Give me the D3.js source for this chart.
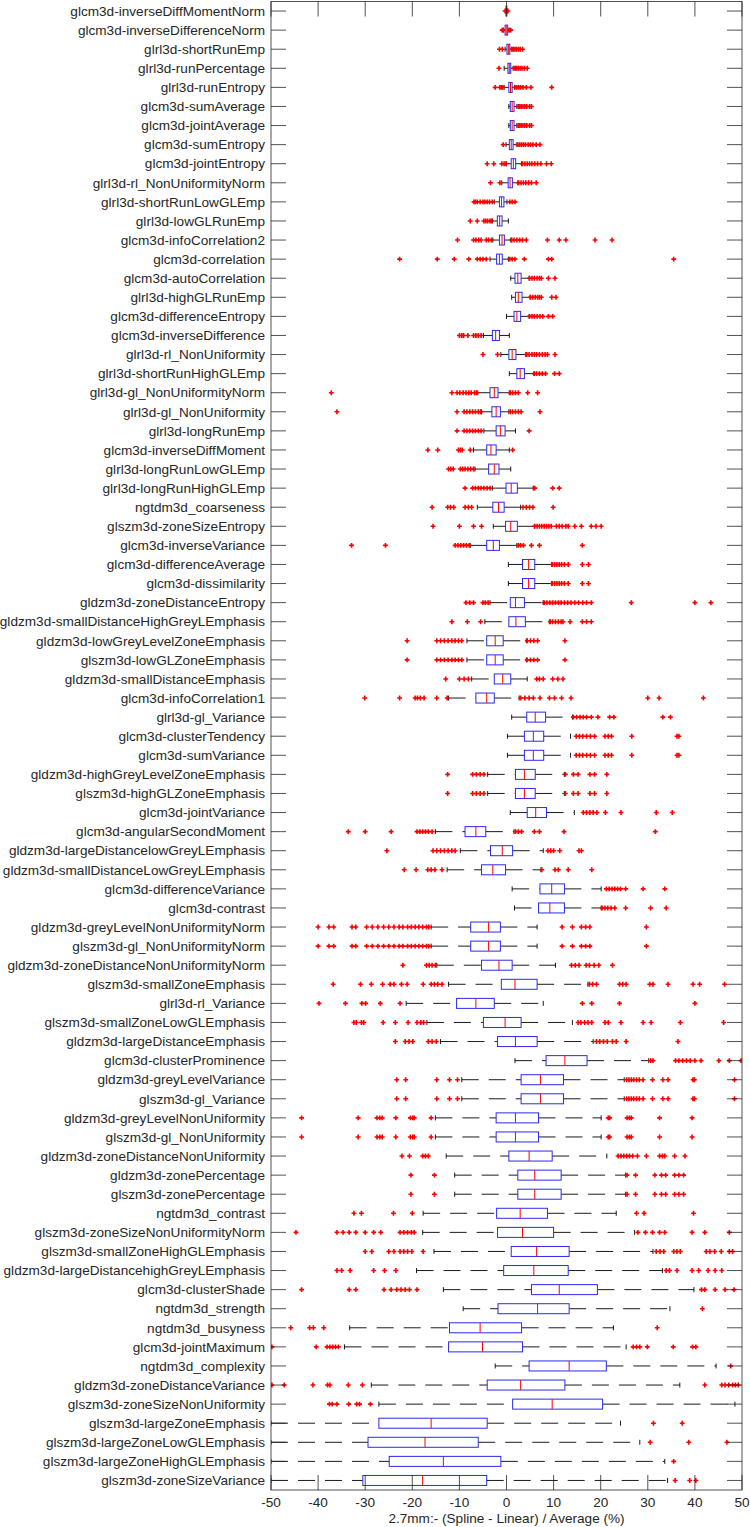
<!DOCTYPE html>
<html>
<head>
<meta charset="utf-8">
<script src="https://cdn.jsdelivr.net/npm/d3@7"></script>
<style>
  body { margin: 0; background: #fff; }
  text { font-family: "Liberation Sans", Arial, Helvetica, sans-serif; fill: #262626; }
</style>
</head>
<body>
<script>
// features, top to bottom
var features = [
  "glcm3d-inverseDiffMomentNorm", "glcm3d-inverseDifferenceNorm", "glrl3d-shortRunEmp", "glrl3d-runPercentage",
  "glrl3d-runEntropy", "glcm3d-sumAverage", "glcm3d-jointAverage", "glcm3d-sumEntropy", "glcm3d-jointEntropy",
  "glrl3d-rl_NonUniformityNorm", "glrl3d-shortRunLowGLEmp", "glrl3d-lowGLRunEmp", "glcm3d-infoCorrelation2",
  "glcm3d-correlation", "glcm3d-autoCorrelation", "glrl3d-highGLRunEmp", "glcm3d-differenceEntropy",
  "glcm3d-inverseDifference", "glrl3d-rl_NonUniformity", "glrl3d-shortRunHighGLEmp", "glrl3d-gl_NonUniformityNorm",
  "glrl3d-gl_NonUniformity", "glrl3d-longRunEmp", "glcm3d-inverseDiffMoment", "glrl3d-longRunLowGLEmp",
  "glrl3d-longRunHighGLEmp", "ngtdm3d_coarseness", "glszm3d-zoneSizeEntropy", "glcm3d-inverseVariance",
  "glcm3d-differenceAverage", "glcm3d-dissimilarity", "gldzm3d-zoneDistanceEntropy",
  "gldzm3d-smallDistanceHighGreyLEmphasis", "gldzm3d-lowGreyLevelZoneEmphasis", "glszm3d-lowGLZoneEmphasis",
  "gldzm3d-smallDistanceEmphasis", "glcm3d-infoCorrelation1", "glrl3d-gl_Variance", "glcm3d-clusterTendency",
  "glcm3d-sumVariance", "gldzm3d-highGreyLevelZoneEmphasis", "glszm3d-highGLZoneEmphasis", "glcm3d-jointVariance",
  "glcm3d-angularSecondMoment", "gldzm3d-largeDistancelowGreyLEmphasis", "gldzm3d-smallDistanceLowGreyLEmphasis",
  "glcm3d-differenceVariance", "glcm3d-contrast", "gldzm3d-greyLevelNonUniformityNorm",
  "glszm3d-gl_NonUniformityNorm", "gldzm3d-zoneDistanceNonUniformityNorm", "glszm3d-smallZoneEmphasis",
  "glrl3d-rl_Variance", "glszm3d-smallZoneLowGLEmphasis", "gldzm3d-largeDistanceEmphasis",
  "glcm3d-clusterProminence", "gldzm3d-greyLevelVariance", "glszm3d-gl_Variance", "gldzm3d-greyLevelNonUniformity",
  "glszm3d-gl_NonUniformity", "gldzm3d-zoneDistanceNonUniformity", "gldzm3d-zonePercentage",
  "glszm3d-zonePercentage", "ngtdm3d_contrast", "glszm3d-zoneSizeNonUniformityNorm",
  "glszm3d-smallZoneHighGLEmphasis", "gldzm3d-largeDistancehighGreyLEmphasis", "glcm3d-clusterShade",
  "ngtdm3d_strength", "ngtdm3d_busyness", "glcm3d-jointMaximum", "ngtdm3d_complexity",
  "gldzm3d-zoneDistanceVariance", "glszm3d-zoneSizeNonUniformity", "glszm3d-largeZoneEmphasis",
  "glszm3d-largeZoneLowGLEmphasis", "glszm3d-largeZoneHighGLEmphasis", "glszm3d-zoneSizeVariance"
];

var q1 = [-0.1, -0.3, 0.1, 0.3, 0.5, 0.8, 0.8, 0.6, 1.0, 0.35, -1.5, -1.95, -1.5, -2.1, 1.8, 1.9, 1.6, -3.0, 0.5, 2.2,
  -3.5, -3.1, -2.2, -4.2, -3.8, -0.1, -2.9, -0.2, -4.2, 3.4, 3.4, 0.8, 0.5, -4.2, -4.2, -2.6, -6.5, 4.3, 3.8, 3.8,
  1.9, 1.9, 4.4, -8.8, -3.4, -5.3, 7.1, 6.8, -7.6, -7.6, -5.3, -1.1, -10.6, -4.9, -1.9, 8.4, 3.1, 3.1, -2.2, -2.2,
  0.5, 2.4, 2.4, -2.1, -1.9, 1.0, -0.6, 5.3, -1.8, -12.1, -12.3, 4.8, -4.1, 1.3, -27.1, -29.4, -24.9, -30.5];
var med = [0, -0.05, 0.4, 0.6, 0.85, 1.2, 1.2, 1.0, 1.45, 0.75, -1.05, -1.45, -0.95, -1.5, 2.4, 2.5, 2.2, -2.3, 1.2, 2.9,
  -2.6, -2.2, -1.3, -3.3, -2.6, 1.0, -1.7, 0.9, -2.8, 4.7, 4.7, 1.9, 2.0, -2.4, -2.4, -0.8, -4.2, 6.1, 5.7, 5.7,
  3.8, 3.8, 6.2, -6.5, -0.9, -2.9, 9.6, 9.2, -3.8, -3.8, -1.6, 1.8, -6.5, -0.3, 1.9, 12.4, 7.2, 7.2, 1.9, 1.9,
  4.8, 6.0, 6.0, 2.9, 3.4, 6.4, 5.8, 11.2, 6.6, -5.6, -5.1, 13.3, 3.0, 9.7, -16.0, -17.3, -13.4, -17.8];
var q3 = [0.08, 0.25, 0.7, 0.9, 1.2, 1.6, 1.6, 1.4, 1.95, 1.25, -0.55, -0.95, -0.45, -0.9, 3.1, 3.3, 3.0, -1.5, 2.0, 3.8,
  -1.8, -1.3, -0.3, -2.2, -1.6, 2.3, -0.5, 2.3, -1.5, 6.0, 6.0, 3.8, 4.0, -0.7, -0.7, 0.9, -2.6, 8.3, 7.9, 7.9,
  6.1, 6.1, 8.5, -4.4, 1.3, -0.2, 12.3, 12.3, -1.3, -1.3, 1.2, 6.5, -2.6, 3.1, 6.5, 17.1, 12.1, 12.1, 6.8, 6.8,
  9.7, 11.6, 11.6, 8.7, 10.0, 13.3, 13.1, 19.3, 13.3, 3.2, 3.4, 21.2, 12.4, 20.4, -4.1, -6.0, -1.2, -4.2];
var whiskerLo = [-0.2, -0.6, -0.3, -0.5, -0.5, 0.5, 0.5, -0.1, 0.0, -1.0, -2.6, -3.0, -2.9, -3.5, 0.9, 1.1, 0.0, -4.9,
  -1.2, 0.6, -6.1, -5.3, -4.8, -7.0, -6.7, -3.0, -6.2, -2.8, -7.7, 0.4, 0.4, -3.5, -4.6, -8.4, -8.4, -7.4, -12.3,
  1.1, 0.2, 0.2, -4.0, -4.0, 0.8, -15.1, -9.8, -12.6, 1.2, 1.7, -16.0, -16.0, -14.8, -12.3, -21.3, -16.9, -14.0,
  1.8, -9.5, -9.5, -15.1, -15.1, -12.8, -11.0, -11.0, -17.7, -17.8, -15.4, -19.1, -13.4, -9.2, -33.3, -34.4, -2.4,
  -28.7, -27.1, -50, -50, -50, -50];
var whiskerHi = [0.2, 0.5, 1.0, 1.4, 1.7, 2.2, 2.2, 2.2, 3.2, 2.4, 0.1, 0.4, 0.9, 0.4, 4.8, 5.0, 4.8, 0.6, 4.1, 5.8,
  0.6, 0.5, 1.9, 0.6, 0.9, 5.7, 3.0, 5.9, 2.2, 9.6, 9.6, 7.8, 9.1, 4.2, 4.2, 4.4, 2.7, 14.0, 13.6, 13.6,
  12.3, 12.3, 14.4, 1.6, 7.8, 7.3, 20.1, 20.1, 6.5, 6.5, 10.4, 17.3, 7.8, 14.0, 18.4, 30.2, 25.0, 25.0, 20.1, 20.1,
  21.3, 25.3, 25.3, 23.3, 27.2, 31.1, 33.1, 39.8, 34.7, 22.7, 25.4, 44.5, 36.8, 48.5, 24.2, 28.3, 33.6, 34.2];

var outliers = [
  [-0.3, 0.3],
  [-0.9, -0.8, 0.7, 0.9],
  [-1.5, -0.9, 1.2, 1.5, 1.8, 2.1, 2.5, 2.9, 3.4],
  [-1.6, 1.6, 1.9, 2.2, 2.5, 2.9, 3.3, 3.8, 4.4],
  [-2.4, -1.4, -1.1, -0.8, 1.8, 2.2, 2.6, 3.0, 3.5, 4.2, 5.2, 9.6],
  [2.5, 2.8, 3.1, 3.5, 3.9, 4.3, 4.9, 5.3],
  [2.5, 2.8, 3.1, 3.5, 3.9, 4.3, 4.9, 5.3],
  [-0.7, 2.4, 2.8, 3.2, 3.6, 4.0, 4.6, 5.1, 5.6, 6.3, 7.1],
  [-4.1, -2.7, -1.0, -0.5, -0.1, 3.4, 3.9, 4.4, 4.9, 5.4, 6.0, 6.6, 7.3, 8.5, 9.5],
  [-3.4, -1.4, 2.6, 3.1, 3.6, 4.1, 4.7, 5.3, 6.3],
  [-6.9, -6.6, -6.2, -5.6, -5.0, -4.6, -4.1, -3.6, -3.0, 0.7, 1.2, 1.8],
  [-7.7, -6.2, -4.8, -4.4, -4.0, -3.5, -3.2],
  [-10.4, -7.0, -6.5, -5.9, -5.4, -4.3, -3.8, -3.2, 1.1, 1.6, 2.2, 2.8, 3.4, 4.2, 8.7, 11.2, 12.6, 18.8, 22.4],
  [-22.7, -14.7, -11.1, -8.0, -6.2, -5.6, -5.0, -4.3, 0.7, 1.2, 1.8, 3.8, 8.9, 9.6, 35.5],
  [4.9, 5.4, 5.9, 6.5, 7.0, 7.4, 8.9, 10.3],
  [5.1, 5.6, 6.1, 6.6, 7.0, 7.4, 9.6, 10.5],
  [4.9, 5.4, 5.9, 6.5, 7.1, 7.7, 8.9, 9.8],
  [-10.0, -9.5, -9.1, -8.2, -7.0, -6.5, -6.0, -5.4],
  [-5.0, -1.9, 4.3, 4.8, 5.4, 5.9, 6.4, 7.0, 7.6, 8.2, 8.7, 10.3],
  [5.9, 6.4, 7.0, 7.6, 8.3, 10.2, 11.2],
  [-37.2, -11.6, -10.5, -9.9, -9.2, -8.6, -8.0, -7.5, -6.8, -6.4, 0.8, 1.3, 1.9, 2.5, 4.5, 6.6],
  [-36.0, -10.5, -9.0, -8.4, -7.8, -7.2, -6.6, -6.0, -5.5, 0.8, 1.3, 1.9, 2.5, 3.1, 7.1],
  [-10.5, -9.0, -8.4, -7.8, -7.2, -6.6, -6.0, -5.4, 4.8],
  [-16.7, -14.6, -10.2, -9.8, -9.4, -7.7, 1.3],
  [-12.3, -11.8, -11.3, -9.8, -9.3, -8.8, -8.2, -7.6, -7.0],
  [-8.8, -7.2, -6.6, -6.0, -5.4, -4.8, -4.1, -3.5, 6.0, 9.8, 11.2],
  [-15.8, -12.5, -11.9, -11.2, -8.8, -8.1, -7.4, 3.5, 4.2, 4.9, 5.6, 9.9],
  [-15.6, -10.0, -7.0, -5.3, 6.0, 6.5, 7.0, 7.5, 8.0, 8.5, 9.0, 9.5, 10.6, 11.2, 11.8, 12.6, 13.1, 14.5, 15.9, 18.0, 19.0, 20.1],
  [-32.9, -25.7, -10.9, -10.3, -9.7, -9.1, -8.5, -7.9, 2.5, 3.0, 3.6, 5.3, 7.0, 16.1],
  [9.7, 10.2, 10.7, 11.2, 11.7, 12.3, 13.1, 16.1, 17.4],
  [9.7, 10.2, 10.7, 11.2, 11.7, 12.3, 13.1, 16.1, 17.4],
  [-8.6, -7.8, -7.0, -5.0, -4.5, -3.9, 8.0, 8.6, 9.2, 9.8, 10.4, 11.0, 11.6, 12.3, 13.0, 13.7, 14.5, 15.3, 16.2, 17.0, 18.0, 26.5, 40.0, 43.4],
  [-11.6, -8.3, -5.5, 9.3, 9.8, 10.4, 11.0, 11.6, 12.0, 13.5, 16.1, 17.0, 18.0],
  [-21.1, -14.8, -14.0, -13.2, -12.4, -11.6, -10.9, -10.2, -9.5, 4.4, 5.1, 5.8, 6.6, 12.4],
  [-21.1, -14.8, -14.0, -13.2, -12.4, -11.6, -10.9, -10.2, -9.5, 4.4, 5.1, 5.8, 6.6, 12.4],
  [-12.9, -10.0, -9.0, -8.1, 6.4, 7.0, 7.8, 9.8, 10.9, 12.0],
  [-30.1, -22.7, -19.4, -18.9, -18.3, -17.5, -14.8, -12.6, 3.0, 3.9, 4.8, 5.7, 7.1, 9.1, 10.2, 11.7, 13.7, 30.0, 32.4, 41.8],
  [14.2, 14.9, 15.6, 16.3, 17.0, 18.0, 19.4, 21.9, 22.8, 33.2, 34.8],
  [14.8, 15.5, 16.2, 17.0, 17.8, 18.7, 20.9, 21.6, 22.3, 26.6, 36.2, 36.6],
  [14.8, 15.5, 16.2, 17.0, 17.8, 18.7, 20.9, 21.6, 22.3, 26.6, 36.2, 36.6],
  [-12.5, -7.2, -6.4, -5.6, -4.8, 12.5, 14.2, 15.2, 17.7, 18.7, 21.3],
  [-12.5, -7.2, -6.4, -5.6, -4.8, 12.5, 14.2, 15.2, 17.7, 18.7, 21.3],
  [16.3, 17.0, 17.7, 18.4, 19.2, 21.0, 24.3, 31.8, 35.2],
  [-33.6, -30.0, -24.5, -19.0, -18.4, -17.8, -17.2, -16.6, -15.8, 1.9, 2.5, 3.2, 5.9, 7.0, 12.2, 31.6],
  [-25.4, -15.6, -14.8, -14.0, -13.2, -12.4, -11.6, -10.9, 8.8, 9.4, 10.0, 11.3, 15.4, 15.9],
  [-21.7, -19.2, -16.7, -16.0, -15.2, -13.7, 7.5, 10.3, 11.0, 13.1, 18.1],
  [21.2, 21.8, 22.4, 23.0, 23.6, 24.2, 25.3, 29.0, 33.6],
  [20.3, 20.9, 21.5, 22.2, 23.0, 25.3, 30.6, 33.9],
  [-40.0, -37.7, -36.7, -32.8, -32.0, -29.7, -28.5, -27.3, -26.1, -25.0, -23.9, -22.8, -22.0, -21.0, -20.2, -19.4, -18.6, -17.8, -17.0, -16.5, 11.8, 14.0, 15.9, 16.8, 17.7, 29.7],
  [-40.0, -37.7, -36.7, -32.8, -32.0, -29.7, -28.5, -27.3, -26.1, -25.0, -23.9, -22.8, -22.0, -21.0, -20.2, -19.4, -18.6, -17.8, -17.0, -16.5, 11.8, 14.0, 15.9, 16.8, 17.7, 29.7],
  [-22.0, -17.0, -16.4, -15.8, -15.1, 13.8, 14.6, 15.4, 16.9, 17.6, 18.6, 19.6, 22.5],
  [-36.8, -31.0, -28.7, -26.3, -24.7, -23.9, -22.3, -21.1, -17.7, -16.0, -15.3, -14.6, -13.7, 17.6, 18.3, 19.1, 24.0, 24.7, 25.4, 30.4, 31.1, 34.3, 39.6, 41.0, 46.3],
  [-39.8, -34.2, -30.7, -29.9, -26.8, -22.6, 16.1, 18.1, 24.0, 40.0],
  [-32.4, -31.9, -30.8, -30.3, -26.2, -23.6, -20.9, -19.0, -18.2, -17.6, 15.2, 15.8, 16.6, 17.3, 18.1, 20.9, 21.6, 24.3, 29.0, 30.7, 36.9, 46.1],
  [-23.6, -21.5, -20.7, -19.9, -16.6, -15.8, -14.9, 19.1, 19.8, 20.6, 21.4, 22.5, 23.3, 25.4, 36.4],
  [30.6, 31.1, 35.9, 36.6, 37.4, 38.2, 39.0, 40.0, 41.3, 45.1, 47.3, 49.8],
  [-23.3, -21.4, -14.8, -12.1, -10.4, 25.5, 26.0, 26.5, 27.0, 27.6, 28.2, 29.0, 31.0, 33.2, 34.3, 39.6, 39.9, 48.4],
  [-23.3, -21.4, -14.8, -12.1, -10.4, 25.5, 26.0, 26.5, 27.0, 27.6, 28.2, 29.0, 31.0, 33.2, 34.3, 39.6, 39.9, 48.4],
  [-43.5, -31.5, -27.5, -26.9, -26.4, -23.5, -20.4, -19.9, -19.6, -16.0, 21.6, 21.9, 25.6, 26.1, 26.5, 32.5, 39.4],
  [-43.5, -31.5, -27.5, -26.9, -26.4, -23.5, -20.4, -19.9, -19.6, -16.0, 21.6, 21.9, 25.6, 26.1, 26.5, 32.5, 39.4],
  [-22.2, -20.6, -17.8, -17.2, -16.6, 23.7, 24.3, 24.9, 25.5, 26.1, 26.8, 27.8, 29.7, 32.5, 33.1, 33.6, 35.7, 37.9],
  [-20.3, -15.3, 25.6, 27.4, 31.5, 32.9, 33.8, 35.7, 36.6, 37.6],
  [-20.3, -15.3, 25.6, 27.4, 31.5, 32.9, 33.8, 35.7, 36.6, 37.6],
  [-32.4, -30.8, -24.0, -20.0, 27.6, 29.2, 39.7],
  [-44.7, -36.0, -34.7, -33.4, -32.0, -30.0, -28.2, -26.7, -22.6, -21.8, -21.0, -20.2, -19.6, 27.9, 29.5, 31.0, 32.5, 33.6, 39.4, 42.1, 47.3],
  [-30.0, -28.6, -25.0, -23.9, -22.6, -21.8, -21.0, -20.1, -17.7, 31.8, 32.6, 33.4, 35.5, 36.2, 36.9, 42.4, 43.2, 44.2, 45.6, 47.3, 48.0],
  [-36.0, -35.0, -33.2, -28.2, -25.9, -23.5, 33.9, 34.6, 36.2, 39.4, 40.8, 42.8, 44.3, 45.7],
  [-43.5, -33.4, -32.0, -26.0, -24.5, -23.3, -22.4, -21.5, -20.6, -19.0, 41.4, 42.1, 44.3, 46.4, 48.3],
  [41.6],
  [-45.8, -41.8, -41.0, -38.8, 32.0],
  [-49.8, -40.4, -38.1, -37.5, -36.9, -36.3, -35.7, 26.9, 27.6, 28.3, 29.9, 35.4, 39.5, 40.2],
  [47.6],
  [-49.8, -47.2, -41.1, -38.0, -37.5, -33.6, -30.6, 42.1, 45.7, 46.4, 47.2, 48.0, 48.6, 49.2],
  [-37.6, -37.0, -36.0, -33.5, -31.8, -31.2, -28.9],
  [31.2, 37.3],
  [30.5, 38.7, 46.8],
  [35.5],
  [35.8, 38.9, 40.2]
];

var xTicks = [-50, -40, -30, -20, -10, 0, 10, 20, 30, 40, 50];
var xTitle = "2.7mm:- (Spline - Linear) / Average (%)";

var W = 750, H = 1527;
var pL = 271, pR = 742, pT = 1.5, pB = 1490;
var tickLen = 15;
var axisColor = "#262626";
var fontSize = "13.6px";

var svg = d3.select("body").append("svg")
  .attr("width", W)
  .attr("height", H);

var x = d3.scaleLinear().domain([-50, 50]).range([pL, pR]);
var y = d3.scaleBand().domain(features).range([pT, pB]);
var yc = function(f) { return y(f) + y.bandwidth() / 2; };

var rows = features.map(function(f, i) {
  return { name: f, q1: q1[i], med: med[i], q3: q3[i], lo: whiskerLo[i], hi: whiskerHi[i], out: outliers[i] };
});

svg.append("clipPath").attr("id", "plot")
  .append("rect")
  .attr("x", pL).attr("y", pT)
  .attr("width", pR - pL).attr("height", pB - pT);

var plot = svg.append("g").attr("clip-path", "url(#plot)");

// y ticks inside, both sides
var ticks = svg.append("g");
ticks.selectAll(".ytl").data(features).enter().append("line")
  .attr("x1", pL).attr("x2", pL + tickLen)
  .attr("y1", yc).attr("y2", yc)
  .attr("stroke", axisColor).attr("stroke-width", 0.8);
ticks.selectAll(".ytr").data(features).enter().append("line")
  .attr("x1", pR - tickLen).attr("x2", pR)
  .attr("y1", yc).attr("y2", yc)
  .attr("stroke", axisColor).attr("stroke-width", 0.8);

// x ticks inside, top and bottom
ticks.selectAll(".xtt").data(xTicks).enter().append("line")
  .attr("x1", x).attr("x2", x)
  .attr("y1", pT).attr("y2", pT + tickLen)
  .attr("stroke", axisColor).attr("stroke-width", 0.8);
ticks.selectAll(".xtb").data(xTicks).enter().append("line")
  .attr("x1", x).attr("x2", x)
  .attr("y1", pB).attr("y2", pB - tickLen)
  .attr("stroke", axisColor).attr("stroke-width", 0.8);

var boxH = 10, capH = 5;
var g = plot.selectAll(".row").data(rows).enter().append("g");

// whiskers, dashed, drawn low -> high
g.append("line")
  .attr("x1", function(d) { return x(d.lo); })
  .attr("x2", function(d) { return x(d.q1); })
  .attr("y1", function(d) { return yc(d.name); })
  .attr("y2", function(d) { return yc(d.name); })
  .attr("stroke", "#000").attr("stroke-width", 0.9)
  .attr("stroke-dasharray", "17,10");
g.append("line")
  .attr("x1", function(d) { return x(d.q3); })
  .attr("x2", function(d) { return x(d.hi); })
  .attr("y1", function(d) { return yc(d.name); })
  .attr("y2", function(d) { return yc(d.name); })
  .attr("stroke", "#000").attr("stroke-width", 0.9)
  .attr("stroke-dasharray", "17,10");

// whisker caps
g.selectAll(".cap").data(function(d) { return [{ v: d.lo, n: d.name }, { v: d.hi, n: d.name }]; })
  .enter().append("line")
  .attr("x1", function(d) { return x(d.v); })
  .attr("x2", function(d) { return x(d.v); })
  .attr("y1", function(d) { return yc(d.n) - capH / 2; })
  .attr("y2", function(d) { return yc(d.n) + capH / 2; })
  .attr("stroke", "#000").attr("stroke-width", 0.9);

// boxes
g.append("rect")
  .attr("x", function(d) { return x(d.q1); })
  .attr("y", function(d) { return yc(d.name) - boxH / 2; })
  .attr("width", function(d) { return x(d.q3) - x(d.q1); })
  .attr("height", boxH)
  .attr("fill", "none")
  .attr("stroke", "#2a2af0").attr("stroke-width", 1);

// medians
g.append("line")
  .attr("x1", function(d) { return x(d.med); })
  .attr("x2", function(d) { return x(d.med); })
  .attr("y1", function(d) { return yc(d.name) - boxH / 2; })
  .attr("y2", function(d) { return yc(d.name) + boxH / 2; })
  .attr("stroke", "#f00").attr("stroke-width", 1);

// outliers as red plus marks
var cross = d3.symbol().type(d3.symbolCross).size(13);
g.selectAll(".out").data(function(d) { return d.out.map(function(v) { return { v: v, n: d.name }; }); })
  .enter().append("path")
  .attr("d", cross)
  .attr("transform", function(d) { return "translate(" + x(d.v) + "," + yc(d.n) + ")"; })
  .attr("fill", "#f00");

// frame
svg.append("rect")
  .attr("x", pL).attr("y", pT)
  .attr("width", pR - pL).attr("height", pB - pT)
  .attr("fill", "none")
  .attr("stroke", axisColor).attr("stroke-width", 0.8);

// labels
svg.selectAll(".ylab").data(features).enter().append("text")
  .attr("x", pL - 6)
  .attr("y", yc)
  .attr("dy", "0.35em")
  .attr("text-anchor", "end")
  .style("font-size", fontSize)
  .text(function(d) { return d; });

svg.selectAll(".xlab").data(xTicks).enter().append("text")
  .attr("x", x)
  .attr("y", pB + 17)
  .attr("text-anchor", "middle")
  .style("font-size", fontSize)
  .text(function(d) { return d; });

svg.append("text")
  .attr("x", (pL + pR) / 2)
  .attr("y", pB + 33)
  .attr("text-anchor", "middle")
  .style("font-size", fontSize)
  .text(xTitle);
</script>
</body>
</html>
